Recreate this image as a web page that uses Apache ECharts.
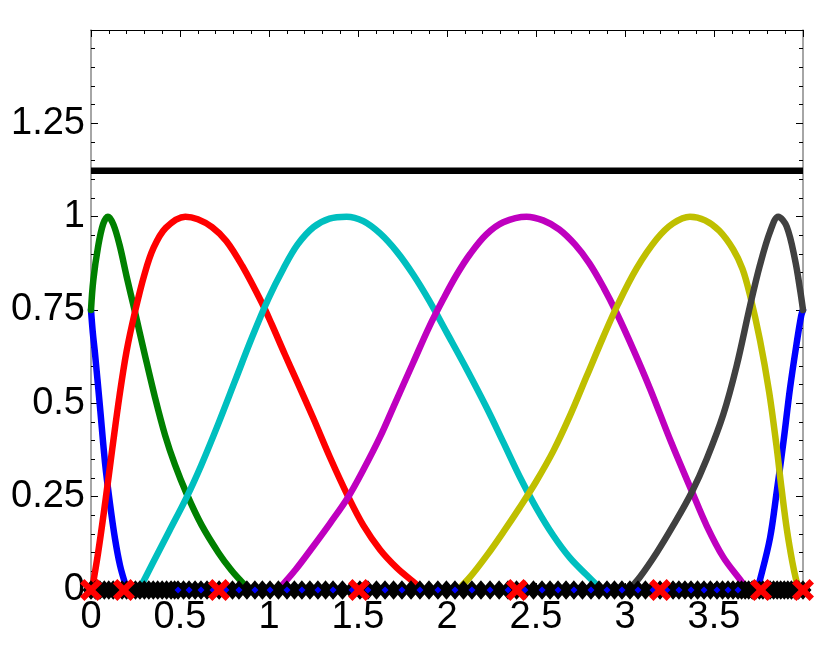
<!DOCTYPE html>
<html>
<head>
<meta charset="utf-8">
<script src="https://cdn.jsdelivr.net/npm/echarts@6/dist/echarts.min.js"></script>
<style>html,body{margin:0;padding:0;background:#fff}#c{width:831px;height:651px}</style>
</head>
<body>
<div id="c"></div>
<script>
// ---- data (x, y) ----
const xTicks = [0, 0.5, 1, 1.5, 2, 2.5, 3, 3.5];
const yTicks = [0, 0.25, 0.5, 0.75, 1, 1.25];
const levelY = 1.123;

const blueLeft = [[0,0.75],[0.01,0.69],[0.022,0.636],[0.05,0.493],[0.079,0.34],[0.107,0.23],[0.135,0.137],[0.163,0.066],[0.19,0.02],[0.205,0]];
const blueRight = [[3.74,0],[3.76,0.03],[3.815,0.14],[3.852,0.262],[3.89,0.396],[3.927,0.54],[3.964,0.66],[3.99,0.735],[4.0,0.75]];
const green = [[0,0.75],[0.013,0.83],[0.04,0.92],[0.068,0.98],[0.095,1.0],[0.125,0.98],[0.16,0.925],[0.2,0.84],[0.247,0.745],[0.3,0.635],[0.36,0.515],[0.416,0.415],[0.472,0.335],[0.537,0.258],[0.62,0.175],[0.716,0.1],[0.79,0.052],[0.85,0.02],[0.89,0]];
const red = [[0.005,0],[0.04,0.1],[0.08,0.235],[0.12,0.38],[0.16,0.52],[0.2,0.64],[0.247,0.745],[0.3,0.845],[0.35,0.915],[0.42,0.97],[0.53,1.0],[0.6,0.993],[0.68,0.972],[0.76,0.935],[0.85,0.868],[0.959,0.77],[1.015,0.712],[1.09,0.63],[1.156,0.56],[1.249,0.46],[1.343,0.355],[1.446,0.249],[1.53,0.173],[1.624,0.108],[1.717,0.06],[1.81,0.022],[1.86,0]];
const cyan = [[0.27,0],[0.35,0.075],[0.44,0.158],[0.537,0.248],[0.62,0.335],[0.715,0.445],[0.809,0.56],[0.903,0.675],[0.996,0.78],[1.08,0.86],[1.16,0.925],[1.25,0.972],[1.34,0.995],[1.436,1.0],[1.53,0.988],[1.624,0.955],[1.72,0.905],[1.81,0.845],[1.9,0.775],[1.998,0.69],[2.11,0.592],[2.223,0.488],[2.316,0.396],[2.41,0.302],[2.504,0.218],[2.597,0.146],[2.691,0.086],[2.785,0.04],[2.87,0]];
const magenta = [[1.05,0],[1.15,0.055],[1.25,0.118],[1.345,0.18],[1.446,0.25],[1.53,0.322],[1.624,0.41],[1.708,0.5],[1.811,0.61],[1.9,0.705],[1.98,0.78],[2.055,0.845],[2.13,0.9],[2.22,0.952],[2.316,0.985],[2.447,1.0],[2.54,0.99],[2.63,0.966],[2.72,0.925],[2.8,0.875],[2.88,0.81],[2.953,0.742],[3.047,0.644],[3.14,0.54],[3.26,0.395],[3.375,0.265],[3.459,0.172],[3.552,0.088],[3.646,0.028],[3.69,0]];
const yellow = [[2.06,0],[2.13,0.035],[2.223,0.092],[2.316,0.155],[2.41,0.222],[2.5,0.29],[2.597,0.372],[2.691,0.467],[2.785,0.573],[2.878,0.678],[2.96,0.765],[3.066,0.862],[3.178,0.94],[3.27,0.982],[3.365,1.0],[3.45,0.99],[3.53,0.962],[3.608,0.912],[3.66,0.86],[3.702,0.79],[3.758,0.67],[3.81,0.53],[3.85,0.39],[3.88,0.27],[3.91,0.16],[3.94,0.075],[3.96,0.03],[3.978,0]];
const darkgray = [[3.02,0],[3.084,0.035],[3.178,0.1],[3.271,0.173],[3.375,0.262],[3.459,0.351],[3.552,0.47],[3.627,0.6],[3.702,0.76],[3.758,0.87],[3.815,0.96],[3.861,1.0],[3.908,0.974],[3.955,0.885],[3.985,0.8],[4.0,0.75]];

// sample points on the baseline (black diamonds) and the blue dots among them
const diamondX = [0,0.025,0.05,0.075,0.1,0.125,0.15,0.175,0.2,0.225,0.25,0.275,0.3,0.325,0.35,0.375,0.4,0.425,0.45,0.47,
  0.489,0.52,0.551,0.585,0.618,0.652,0.685,0.72,0.758,0.795,0.831,0.876,0.921,0.963,1.006,1.053,1.101,1.143,1.185,1.23,
  1.275,1.318,1.36,1.413,1.466,1.511,1.556,1.604,1.652,1.7,1.747,1.798,1.848,1.899,1.949,1.997,2.045,2.093,2.14,2.191,
  2.242,2.293,2.343,2.391,2.438,2.486,2.534,2.579,2.624,2.669,2.713,2.761,2.809,2.854,2.899,2.941,2.983,3.028,3.073,3.115,
  3.157,3.197,3.236,3.27,3.303,3.337,3.371,3.408,3.444,3.48,3.517,3.548,3.579,3.607,3.635,3.655,3.675,3.695,3.715,3.735,
  3.755,3.775,3.795,3.815,3.835,3.855,3.875,3.895,3.915,3.935,3.955,3.975,4.0];
const dotX = [0.489,0.551,0.618,0.685,0.758,0.831,0.921,1.006,1.101,1.185,1.275,1.36,1.466,1.556,1.652,1.747,1.848,1.949,
  2.045,2.14,2.242,2.343,2.438,2.534,2.624,2.713,2.809,2.899,2.983,3.073,3.157,3.236,3.303,3.371,3.444,3.517,3.579,3.635];
const knotX = [0, 0.185, 0.719, 1.506, 2.393, 3.197, 3.764, 4.0];

// ---- chart ----
const font = "'Liberation Sans', Arial, Helvetica, sans-serif";
const chart = echarts.init(document.getElementById('c'), null, {renderer: 'canvas'});
const fmtX = v => (xTicks.indexOf(v) >= 0 ? String(v) : '');
const fmtY = v => (yTicks.indexOf(v) >= 0 ? String(v) : '');
function xAx(pos, show) {
  return {type:'value', position:pos, min:0, max:4, interval:0.5,
    axisLine:{show:true, onZero:false, lineStyle:{color:'#000', width:1}},
    axisTick:{show:true, inside:true, length:7, lineStyle:{color:'#000', width:1}},
    minorTick:{show:true, splitNumber:5, length:4, lineStyle:{color:'#000', width:1}},
    splitLine:{show:false}, minorSplitLine:{show:false},
    axisLabel:{show:show, formatter:fmtX, margin:9, color:'#000', fontSize:38, fontFamily:font}};
}
function yAx(pos, show) {
  return {type:'value', position:pos, min:0, max:1.5, interval:0.25,
    axisLine:{show:true, onZero:false, lineStyle:{color:'#888', width:1.5}},
    axisTick:{show:true, inside:true, length:7, lineStyle:{color:'#000', width:1}},
    minorTick:{show:true, splitNumber:5, length:4, lineStyle:{color:'#000', width:1}},
    splitLine:{show:false}, minorSplitLine:{show:false},
    axisLabel:{show:show, formatter:fmtY, margin:6, color:'#000', fontSize:38, fontFamily:font}};
}
function curve(data, color) {
  return {type:'line', data:data, smooth:0.35, showSymbol:false, symbol:'none',
    lineStyle:{color:color, width:6.5, cap:'round', join:'round'}, z:2};
}
const crossPath = 'path://M0,4 L4,0 L10,6 L16,0 L20,4 L14,10 L20,16 L16,20 L10,14 L4,20 L0,16 L6,10 Z';

chart.setOption({
  animation:false,
  backgroundColor:'#fff',
  grid:{left:91, right:28, top:30, bottom:61, containLabel:false},
  xAxis:[xAx('bottom', true), xAx('top', false)],
  yAxis:[yAx('left', true), yAx('right', false)],
  series:[
    curve(blueLeft, '#0000ff'),
    curve(blueRight, '#0000ff'),
    curve(green, '#008000'),
    curve(red, '#ff0000'),
    curve(cyan, '#00bfbf'),
    curve(magenta, '#bf00bf'),
    curve(yellow, '#bfbf00'),
    curve(darkgray, '#404040'),
    {type:'line', data:[[0, levelY],[4, levelY]], showSymbol:false, symbol:'none',
      lineStyle:{color:'#000', width:6.5, cap:'butt'}, z:3},
    {type:'scatter', data:diamondX.map(x => [x, 0]), symbol:'diamond', symbolSize:[15,17], clip:false,
      itemStyle:{color:'#000', borderColor:'#000', borderWidth:1.5, opacity:1}, z:4},
    {type:'scatter', data:dotX.map(x => [x, 0]), symbol:'diamond', symbolSize:7, clip:false,
      itemStyle:{color:'#0000ff', opacity:1}, z:5},
    {type:'scatter', data:knotX.map(x => [x, 0]), symbol:crossPath, symbolSize:22, clip:false,
      itemStyle:{color:'#ff0000', opacity:1}, z:6}
  ]
});
</script>
</body>
</html>
